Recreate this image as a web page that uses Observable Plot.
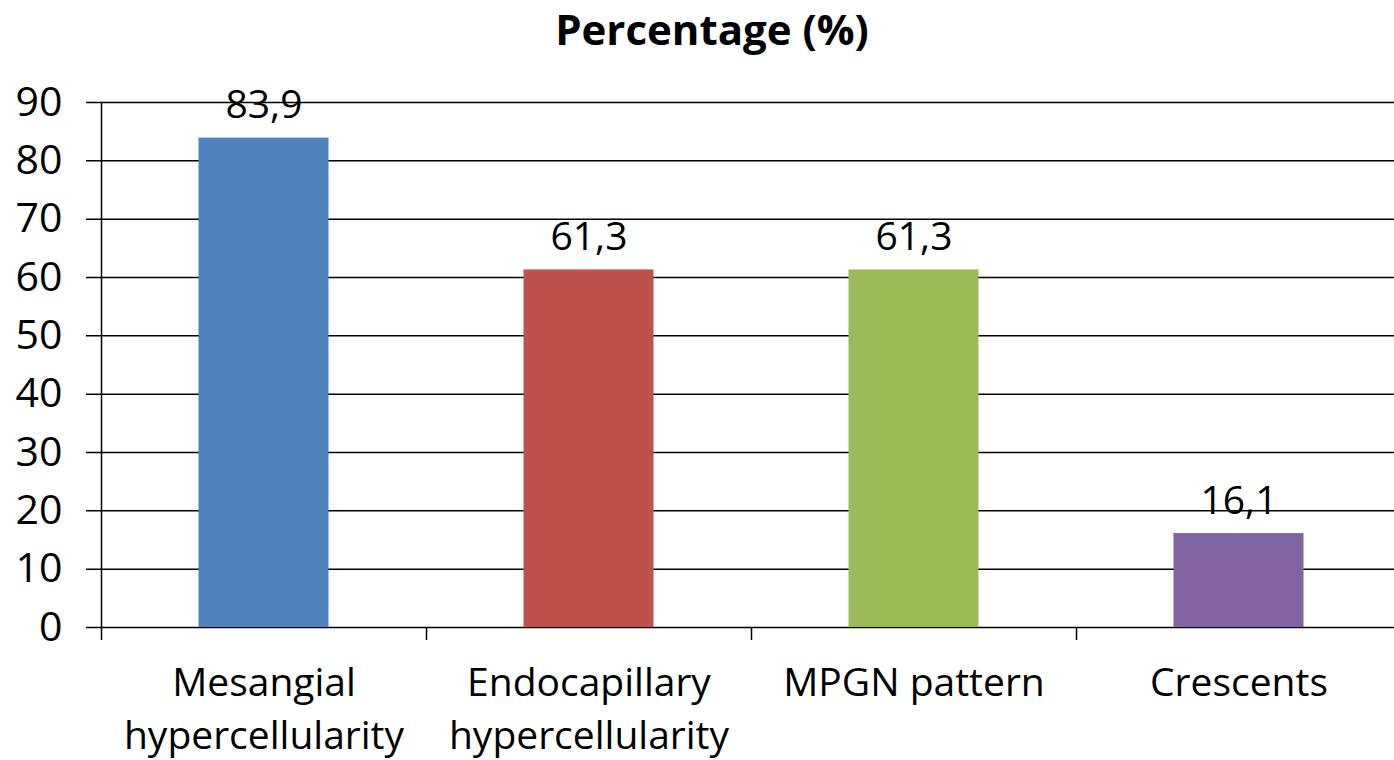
<!DOCTYPE html>
<html>
<head>
<meta charset="utf-8">
<script src="https://cdn.jsdelivr.net/npm/d3@7"></script>
<script src="https://cdn.jsdelivr.net/npm/@observablehq/plot@0.6"></script>
<style>
  body { margin: 0; background: #fff; font-family: "Open Sans", sans-serif; }
  #title { height: 62px; line-height: 58px; text-align: center; font-weight: bold; font-size: 42px; color: #000; padding-left: 30px; }
</style>
</head>
<body>
<div id="title">Percentage (%)</div>
<div id="chart"></div>
<script>
const categories = ["Mesangial\nhypercellularity", "Endocapillary\nhypercellularity", "MPGN pattern", "Crescents"];
const values = [83.9, 61.3, 61.3, 16.1];
const valueLabels = ["83,9", "61,3", "61,3", "16,1"];
const colors = ["#4F81BD", "#C0504D", "#9BBB59", "#8064A2"];
const yTicks = [0, 10, 20, 30, 40, 50, 60, 70, 80, 90];

const data = categories.map((c, i) => ({cat: c, value: values[i], label: valueLabels[i], color: colors[i]}));

const chart = Plot.plot({
  width: 1394,
  height: 698,
  marginTop: 40,
  marginBottom: 133,
  marginLeft: 101,
  marginRight: 0,
  style: {fontFamily: "'Open Sans', sans-serif", color: "#000", background: "#fff"},
  x: {domain: categories, range: [101, 1401], padding: 0, label: null},
  y: {domain: [0, 90], label: null},
  marks: [
    Plot.ruleY(yTicks, {stroke: "#000", strokeWidth: 1.5, insetLeft: -15}),
    Plot.barY(data, {x: "cat", y: "value", fill: "color", insetLeft: 97.5, insetRight: 97.5}),
    Plot.text(data, {x: "cat", y: "value", text: "label", dy: -20, lineAnchor: "bottom", fontSize: 39, fill: "#000"}),
    Plot.ruleX(categories, {x: d => d, y1: 0, y2: 0, dx: -162.5, insetBottom: -13, stroke: "#000", strokeWidth: 1.5}),
    Plot.frame({anchor: "left", stroke: "#000", strokeWidth: 1.5}),
    Plot.axisY({ticks: yTicks, tickSize: 0, tickPadding: 39, fontSize: 41, label: null}),
    Plot.axisX({tickSize: 0, tickPadding: 31, fontSize: 39, lineHeight: 1.36, label: null})
  ]
});
document.getElementById("chart").appendChild(chart);
</script>
</body>
</html>
